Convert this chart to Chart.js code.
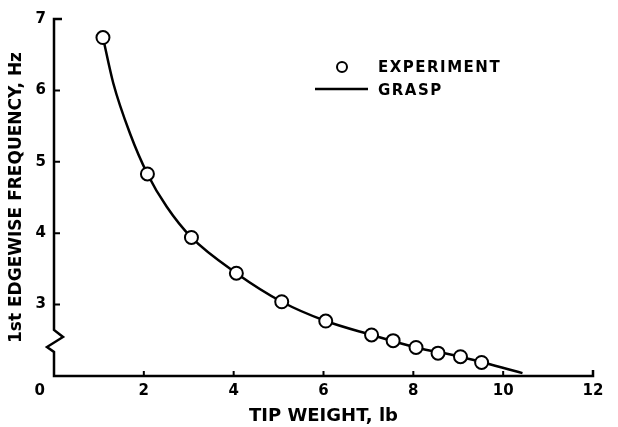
<!DOCTYPE html>
<html>
<head>
<meta charset="utf-8">
<script src="https://cdn.jsdelivr.net/npm/chart.js@4.4.1/dist/chart.umd.min.js"></script>
<style>
  html, body { margin: 0; padding: 0; background: #fff; }
</style>
</head>
<body>
<canvas id="freqChart" width="618" height="427"></canvas>
<script>
// measured points: tip weight (lb) -> 1st edgewise frequency (Hz)
const expWeight = [1.09, 2.08, 3.06, 4.06, 5.07, 6.05, 7.07, 7.55, 8.06, 8.55, 9.05, 9.52];
const expFreq   = [6.74, 4.83, 3.94, 3.44, 3.04, 2.77, 2.575, 2.495, 2.40, 2.32, 2.27, 2.19];

// GRASP prediction curve
const graspWeight = [1.09, 1.32, 1.69, 2.08, 2.51, 3.06, 4.06, 5.07, 6.05, 7.07, 8.06, 9.05, 10.43];
const graspFreq   = [6.74, 6.10, 5.40, 4.83, 4.37, 3.94, 3.44, 3.04, 2.77, 2.575, 2.40, 2.27, 2.04];

const xTicks = [0, 2, 4, 6, 8, 10, 12];
const yTicks = [3, 4, 5, 6, 7];
const yBase = 2;   // value at the bottom of the broken y axis

const INK = '#000';
const FONT = '"DejaVu Sans", sans-serif';

// axes with the zigzag break, inward tick marks, corner "0" and the legend
const axesPlugin = {
  id: 'brokenAxes',
  afterDraw(chart) {
    const { ctx, scales: { x, y } } = chart;
    const x0 = x.getPixelForValue(xTicks[0]);
    const x1 = x.getPixelForValue(xTicks[xTicks.length - 1]);
    const yb = y.getPixelForValue(yBase);
    const yt = y.getPixelForValue(yTicks[yTicks.length - 1]);

    ctx.save();
    ctx.strokeStyle = INK;
    ctx.lineWidth = 2.5;
    ctx.lineJoin = 'miter';
    ctx.beginPath();
    ctx.moveTo(x0 + 8, yt);
    ctx.lineTo(x0, yt);
    ctx.lineTo(x0, yb - 46);
    ctx.lineTo(x0 + 9, yb - 39);
    ctx.lineTo(x0 - 7, yb - 29);
    ctx.lineTo(x0, yb - 24);
    ctx.lineTo(x0, yb);
    ctx.lineTo(x1, yb);
    ctx.lineTo(x1, yb - 6);
    ctx.stroke();

    ctx.lineWidth = 2;
    ctx.beginPath();
    yTicks.slice(0, -1).forEach(v => {
      const p = y.getPixelForValue(v);
      ctx.moveTo(x0, p);
      ctx.lineTo(x0 + 6, p);
    });
    xTicks.slice(1, -1).forEach(v => {
      const p = x.getPixelForValue(v);
      ctx.moveTo(p, yb);
      ctx.lineTo(p, yb - 5);
    });
    ctx.stroke();

    ctx.fillStyle = INK;
    ctx.font = 'bold 15px ' + FONT;
    ctx.textAlign = 'right';
    ctx.textBaseline = 'middle';
    ctx.fillText('0', x0 - 9, yb + 15);

    // legend
    const ds = chart.data.datasets;
    ctx.textAlign = 'left';
    ctx.letterSpacing = '1.5px';
    ctx.beginPath();
    ctx.arc(342, 67, 5, 0, Math.PI * 2);
    ctx.fillStyle = '#fff';
    ctx.fill();
    ctx.lineWidth = 2;
    ctx.stroke();
    ctx.fillStyle = INK;
    ctx.fillText(ds[0].label, 378, 68);

    ctx.lineWidth = 2.5;
    ctx.beginPath();
    ctx.moveTo(315, 89);
    ctx.lineTo(368, 89);
    ctx.stroke();
    ctx.fillText(ds[1].label, 378, 91);
    ctx.restore();
  }
};

new Chart(document.getElementById('freqChart'), {
  type: 'scatter',
  data: {
    datasets: [
      {
        label: 'EXPERIMENT',
        data: expWeight.map((w, i) => ({ x: w, y: expFreq[i] })),
        showLine: false,
        pointStyle: 'circle',
        pointRadius: 6.5,
        pointBorderWidth: 2,
        pointBorderColor: INK,
        pointBackgroundColor: '#fff'
      },
      {
        label: 'GRASP',
        data: graspWeight.map((w, i) => ({ x: w, y: graspFreq[i] })),
        showLine: true,
        borderColor: INK,
        borderWidth: 2.5,
        cubicInterpolationMode: 'monotone',
        pointRadius: 0
      }
    ]
  },
  options: {
    responsive: false,
    animation: false,
    devicePixelRatio: 1,
    layout: { padding: { top: 19, right: 25, left: 0, bottom: 0 } },
    plugins: {
      legend: { display: false },
      tooltip: { enabled: false }
    },
    scales: {
      x: {
        type: 'linear',
        min: 0,
        max: 12,
        afterBuildTicks: s => { s.ticks = xTicks.map(v => ({ value: v })); },
        afterFit: s => { s.height = 51; },
        border: { display: false },
        grid: { display: false, drawTicks: false },
        ticks: {
          padding: 6,
          color: INK,
          font: { family: FONT, size: 15, weight: 'bold' },
          callback: v => (v === 0 ? '' : v)
        },
        title: {
          display: true,
          text: 'TIP WEIGHT, lb',
          color: INK,
          font: { family: FONT, size: 18, weight: 'bold' },
          padding: { top: 3, bottom: 0 }
        }
      },
      y: {
        type: 'linear',
        min: yBase,
        max: 7,
        afterBuildTicks: s => { s.ticks = yTicks.map(v => ({ value: v })); },
        afterFit: s => { s.width = 54; },
        border: { display: false },
        grid: { display: false, drawTicks: false },
        ticks: {
          padding: 8,
          color: INK,
          font: { family: FONT, size: 15, weight: 'bold' }
        },
        title: {
          display: true,
          text: '1st EDGEWISE FREQUENCY, Hz',
          color: INK,
          font: { family: FONT, size: 17, weight: 'bold' },
          padding: { top: 6, bottom: 0 }
        }
      }
    }
  },
  plugins: [axesPlugin]
});
</script>
</body>
</html>
